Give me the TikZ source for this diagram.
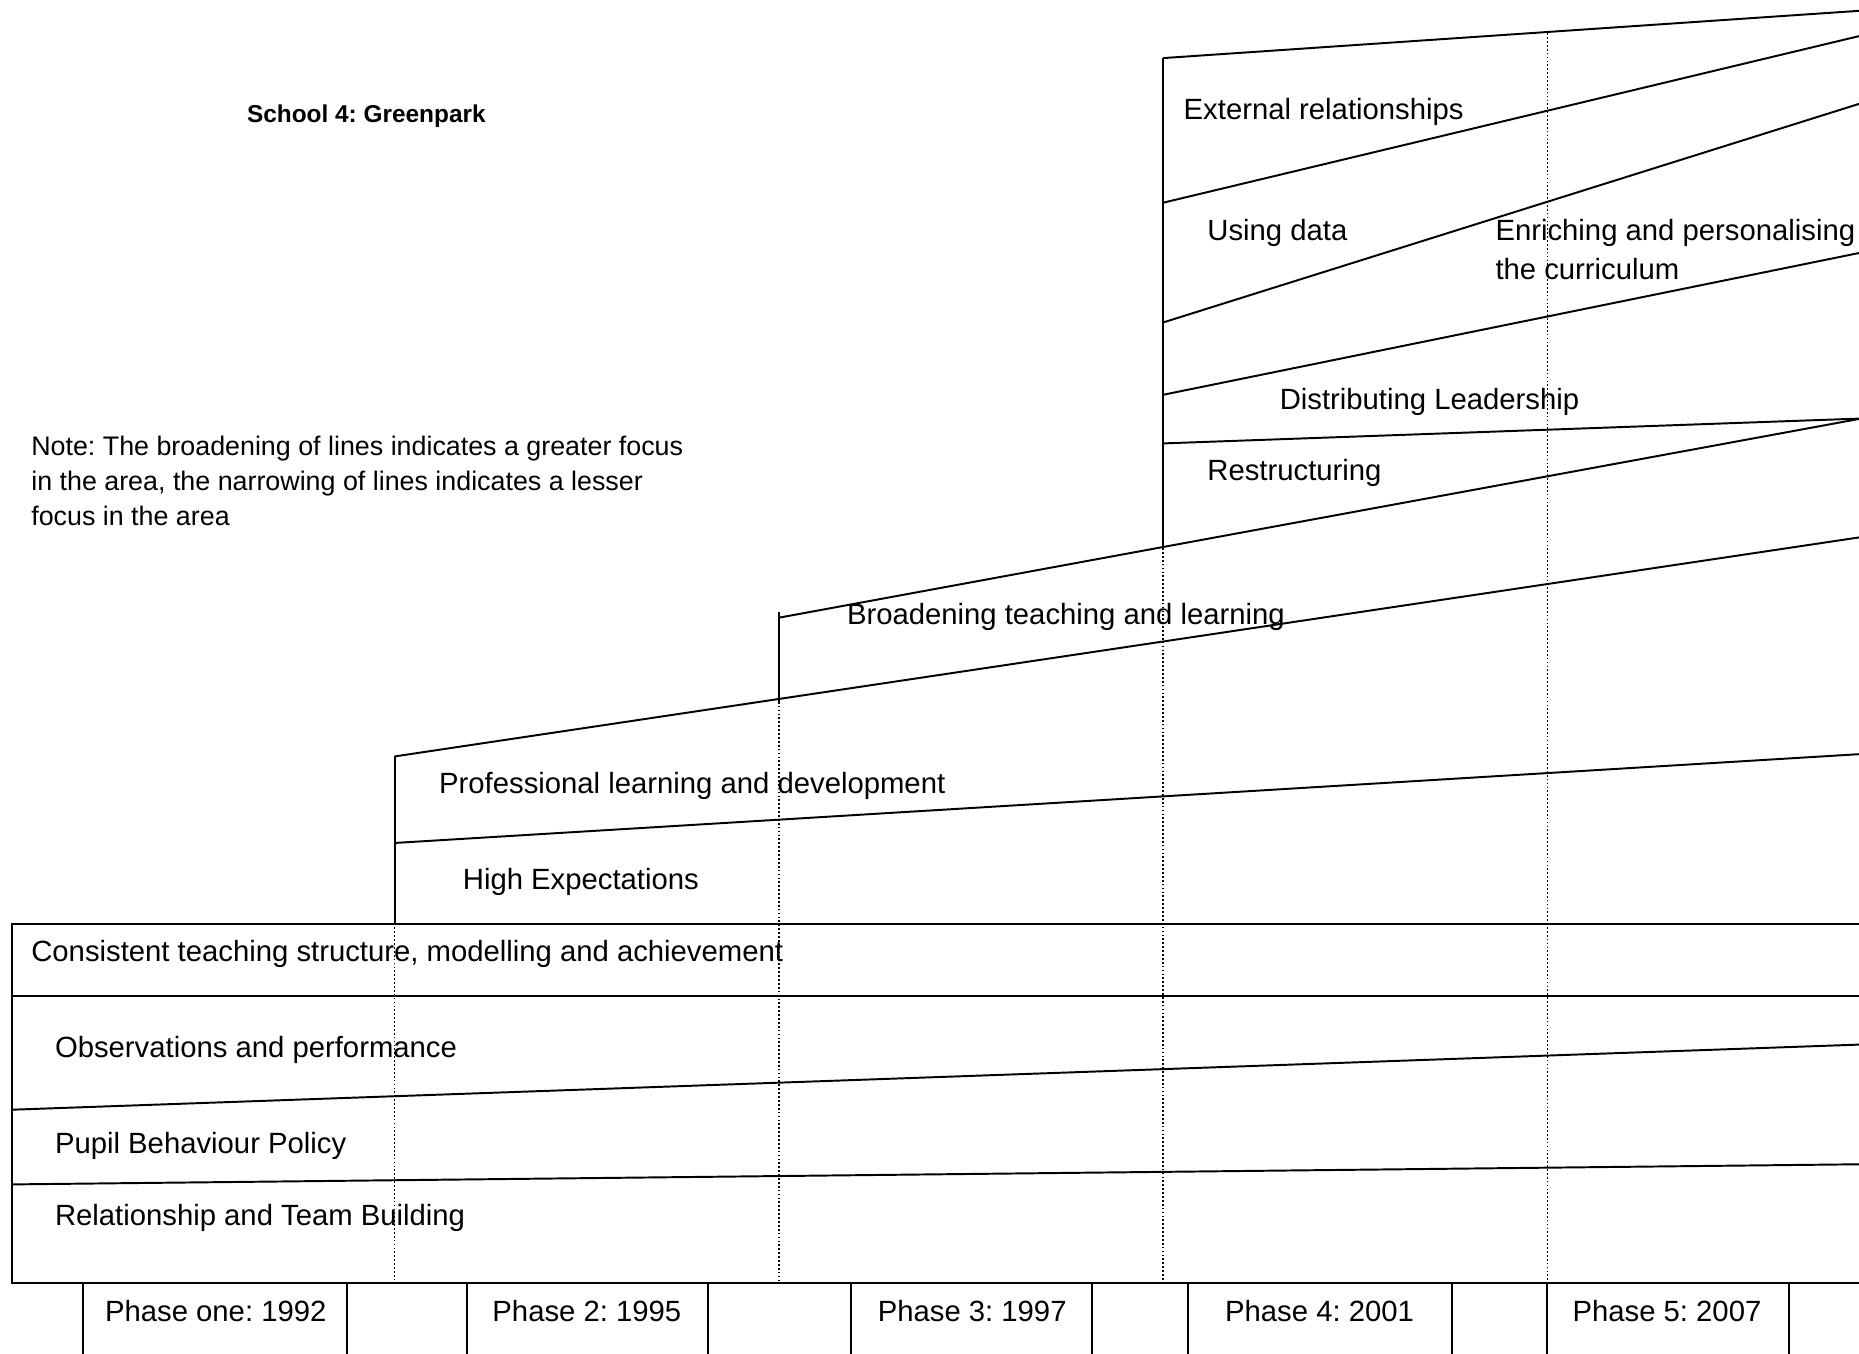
\documentclass[tikz,border=0pt]{standalone}
\usepackage{fontspec}
\setmainfont{Liberation Sans}
\frenchspacing
\begin{document}
\frenchspacing
\begin{tikzpicture}[x=0.486pt,y=-0.486pt,
  lbl/.style={anchor=base west,inner sep=0pt,font=\fontsize{12}{16}\selectfont},
  notelbl/.style={anchor=base west,inner sep=0pt,align=left,font=\fontsize{11}{14.3}\selectfont},
  ttl/.style={anchor=base west,inner sep=0pt,font=\fontsize{10}{12}\selectfont\bfseries},
  band/.style={line width=0.8pt},
  guide/.style={line width=0.5pt,dash pattern=on 0.7pt off 0.9pt},
  cell/.style={line width=0.8pt}]
\useasboundingbox (0,0) rectangle (1568,1142);
\clip (0,0) rectangle (1568,1142);
% coordinates
\coordinate (t1a) at (981,49);   \coordinate (t1b) at (1570,9);
\coordinate (t2a) at (981,171);  \coordinate (t2b) at (1570,30);
\coordinate (t3a) at (981,272);  \coordinate (t3b) at (1570,87);
\coordinate (t4a) at (981,333);  \coordinate (t4b) at (1570,213);
\coordinate (t5a) at (981,374);  \coordinate (t5b) at (1570,353);
\coordinate (t6a) at (657,521);  \coordinate (t6b) at (1570,353);
\coordinate (t7a) at (333,638);  \coordinate (t7b) at (1570,453);
\coordinate (t8a) at (333,711);  \coordinate (t8b) at (1570,636);
\coordinate (v3top) at (981,49); \coordinate (v3bot) at (981,459);
\coordinate (v2top) at (657,516); \coordinate (v2bot) at (657,592);
\coordinate (v1top) at (333,638); \coordinate (v1bot) at (333,779);
% frame
\coordinate (ftl) at (10,779); \coordinate (ftr) at (1570,779);
\coordinate (fbl) at (10,1082); \coordinate (fbr) at (1570,1082);
\coordinate (f2l) at (10,840); \coordinate (f2r) at (1570,840);
\coordinate (f3l) at (10,936); \coordinate (f3r) at (1570,881);
\coordinate (f4l) at (10,999); \coordinate (f4r) at (1570,982);
% dotted guides
\coordinate (g1a) at (333,779);  \coordinate (g1b) at (333,1082);
\coordinate (g2a) at (657,592);  \coordinate (g2b) at (657,1082);
\coordinate (g3a) at (981,459);  \coordinate (g3b) at (981,1082);
\coordinate (g4a) at (1305,28);  \coordinate (g4b) at (1305,1082);
\draw[guide] (g1a) -- (g1b);
\draw[guide] (g2a) -- (g2b);
\draw[guide] (g3a) -- (g3b);
\draw[guide] (g4a) -- (g4b);
% bands
\draw[band] (t1a) -- (t1b);
\draw[band] (t2a) -- (t2b);
\draw[band] (t3a) -- (t3b);
\draw[band] (t4a) -- (t4b);
\draw[band] (t5a) -- (t5b);
\draw[band] (t6a) -- (t6b);
\draw[band] (t7a) -- (t7b);
\draw[band] (t8a) -- (t8b);
\draw[band] (v3top) -- (v3bot);
\draw[band] (v2top) -- (v2bot);
\draw[band] (v1top) -- (v1bot);
\draw[band] (ftr) -- (ftl) -- (fbl) -- (fbr);
\draw[band] (f2l) -- (f2r);
\draw[band] (f3l) -- (f3r);
\draw[band] (f4l) -- (f4r);
% phase cells
\foreach \x [count=\i] in {70,293,394,597,718,921,1002,1225,1305,1509}{
  \coordinate (pa\i) at (\x,1082); \coordinate (pb\i) at (\x,1145);
  \draw[cell] (pa\i) -- (pb\i);
}
% labels
\node[ttl] (title) at (208,103) {School 4: Greenpark};
\node[notelbl] (note1) at (26,384) {Note: The broadening of lines indicates a greater focus};
\node[notelbl] (note2) at (26,414) {in the area, the narrowing of lines indicates a lesser};
\node[notelbl] (note3) at (26,443) {focus in the area};
\node[lbl] (ext) at (998,101) {External relationships};
\node[lbl] (data) at (1018,203) {Using data};
\node[lbl] (enr1) at (1261,203) {Enriching and personalising};
\node[lbl] (enr2) at (1261,236) {the curriculum};
\node[lbl] (dist) at (1079,345) {Distributing Leadership};
\node[lbl] (restr) at (1018,405) {Restructuring};
\node[lbl] (broad) at (714,527) {Broadening teaching and learning};
\node[lbl] (prof) at (370,669) {Professional learning and development};
\node[lbl] (high) at (390,750) {High Expectations};
\node[lbl] (cons) at (26,811) {Consistent teaching structure, modelling and achievement};
\node[lbl] (obs) at (46,892) {Observations and performance};
\node[lbl] (pupil) at (46,973) {Pupil Behaviour Policy};
\node[lbl] (rel) at (46,1034) {Relationship and Team Building};
\node[lbl,anchor=base] (p1) at (182,1115) {Phase one: 1992};
\node[lbl,anchor=base] (p2) at (495,1115) {Phase 2: 1995};
\node[lbl,anchor=base] (p3) at (820,1115) {Phase 3: 1997};
\node[lbl,anchor=base] (p4) at (1113,1115) {Phase 4: 2001};
\node[lbl,anchor=base] (p5) at (1406,1115) {Phase 5: 2007};
\end{tikzpicture}
\end{document}
